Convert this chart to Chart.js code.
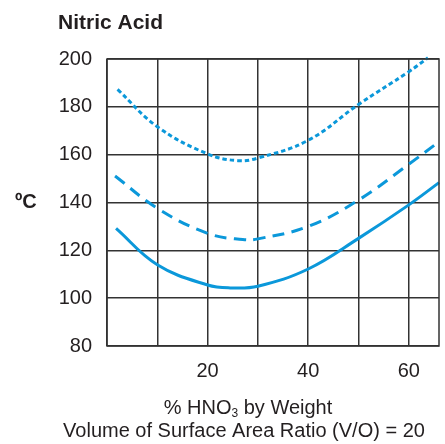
<!DOCTYPE html>
<html>
<head>
<meta charset="utf-8">
<script src="https://cdn.jsdelivr.net/npm/chart.js@4.4.1/dist/chart.umd.min.js"></script>
<style>
    body { margin: 0; background: #fff; }
    #wrap { width: 445px; height: 444px; }
</style>
</head>
<body>
<div id="wrap"><canvas id="acidChart" width="445" height="444"></canvas></div>
<script>
// readings (x = % HNO3, y = degrees C)
const solidX = [1.8, 10, 20, 24.5, 30, 40, 50, 60, 66];
const solidY = [129.2, 114, 105.5, 104.3, 105, 112.2, 125, 139, 148.3];

const dashedX = [1.6, 10, 20, 27, 30, 40, 50, 60, 66];
const dashedY = [151.1, 137.6, 127.1, 124.5, 124.8, 130, 141, 156, 165.4];

const dottedX = [2.1, 10, 20, 26, 30, 40, 50, 60, 63.8];
const dottedY = [187.3, 171.7, 160.3, 157.5, 158.6, 166, 181, 194.7, 200.5];

const xGridValues = [0, 10, 20, 30, 40, 50, 60];
const xTickLabels = [20, 40, 60];
const yMin = 80, yMax = 200, yStep = 20;
const xMin = 0, xMax = 66;

const lineColor = '#0b98da';
const gridColor = '#333333';
const textColor = '#231f20';

function toPoints(xs, ys) {
    return xs.map((x, i) => ({ x: x, y: ys[i] }));
}

// frame, title and axis captions
const decorations = {
    id: 'decorations',
    afterDraw(chart) {
        const ctx = chart.ctx;
        const a = chart.chartArea;
        ctx.save();
        ctx.strokeStyle = gridColor;
        ctx.lineWidth = 1.5;
        ctx.strokeRect(a.left, a.top, a.right - a.left, a.bottom - a.top);

        ctx.fillStyle = textColor;
        ctx.textBaseline = 'middle';

        ctx.font = 'bold 21px "Liberation Sans", Arial, sans-serif';
        ctx.textAlign = 'left';
        ctx.fillText('Nitric Acid', 58, 23);

        ctx.font = 'bold 20px "Liberation Sans", Arial, sans-serif';
        ctx.fillText('ºC', 15, 202);

        // "% HNO3 by Weight" with subscript
        const p1 = '% HNO', p3 = ' by Weight';
        ctx.font = '12px "Liberation Sans", Arial, sans-serif';
        const wSub = ctx.measureText('3').width;
        ctx.font = '20px "Liberation Sans", Arial, sans-serif';
        const w1 = ctx.measureText(p1).width;
        const w3 = ctx.measureText(p3).width;
        let x = 248 - (w1 + wSub + w3) / 2;
        ctx.fillText(p1, x, 408);
        x += w1;
        ctx.font = '12px "Liberation Sans", Arial, sans-serif';
        ctx.fillText('3', x, 414);
        x += wSub;
        ctx.font = '20px "Liberation Sans", Arial, sans-serif';
        ctx.fillText(p3, x, 408);

        ctx.textAlign = 'center';
        ctx.fillText('Volume of Surface Area Ratio (V/O) = 20', 244, 431);
        ctx.restore();
    }
};

const ctx = document.getElementById('acidChart').getContext('2d');
new Chart(ctx, {
    type: 'line',
    data: {
        datasets: [{
            label: 'solid',
            data: toPoints(solidX, solidY),
            borderColor: lineColor,
            borderWidth: 3,
            tension: 0.4
        }, {
            label: 'dashed',
            data: toPoints(dashedX, dashedY),
            borderColor: lineColor,
            borderWidth: 3,
            borderDash: [12, 7.5],
            tension: 0.4
        }, {
            label: 'dotted',
            data: toPoints(dottedX, dottedY),
            borderColor: lineColor,
            borderWidth: 3,
            borderDash: [4.5, 3],
            tension: 0.4
        }]
    },
    options: {
        responsive: false,
        animation: false,
        clip: false,
        layout: { padding: { top: 59, right: 6, left: 0, bottom: 0 } },
        elements: { point: { radius: 0 } },
        plugins: {
            legend: { display: false },
            tooltip: { enabled: false }
        },
        scales: {
            x: {
                type: 'linear',
                min: xMin,
                max: xMax,
                border: { display: false },
                grid: { color: gridColor, lineWidth: 1.5, drawTicks: false },
                ticks: {
                    padding: 13,
                    maxRotation: 0,
                    autoSkip: false,
                    color: textColor,
                    font: { family: '"Liberation Sans", Arial, sans-serif', size: 20 },
                    callback: v => xTickLabels.includes(v) ? String(v) : ''
                },
                afterBuildTicks: scale => {
                    scale.ticks = xGridValues.map(v => ({ value: v }));
                },
                afterFit: scale => { scale.height = 98; }
            },
            y: {
                min: yMin,
                max: yMax,
                border: { display: false },
                grid: { color: gridColor, lineWidth: 1.5, drawTicks: false },
                ticks: {
                    stepSize: yStep,
                    padding: 15,
                    color: textColor,
                    font: { family: '"Liberation Sans", Arial, sans-serif', size: 20 }
                },
                afterFit: scale => { scale.width = 107; }
            }
        }
    },
    plugins: [decorations]
});
</script>
</body>
</html>
